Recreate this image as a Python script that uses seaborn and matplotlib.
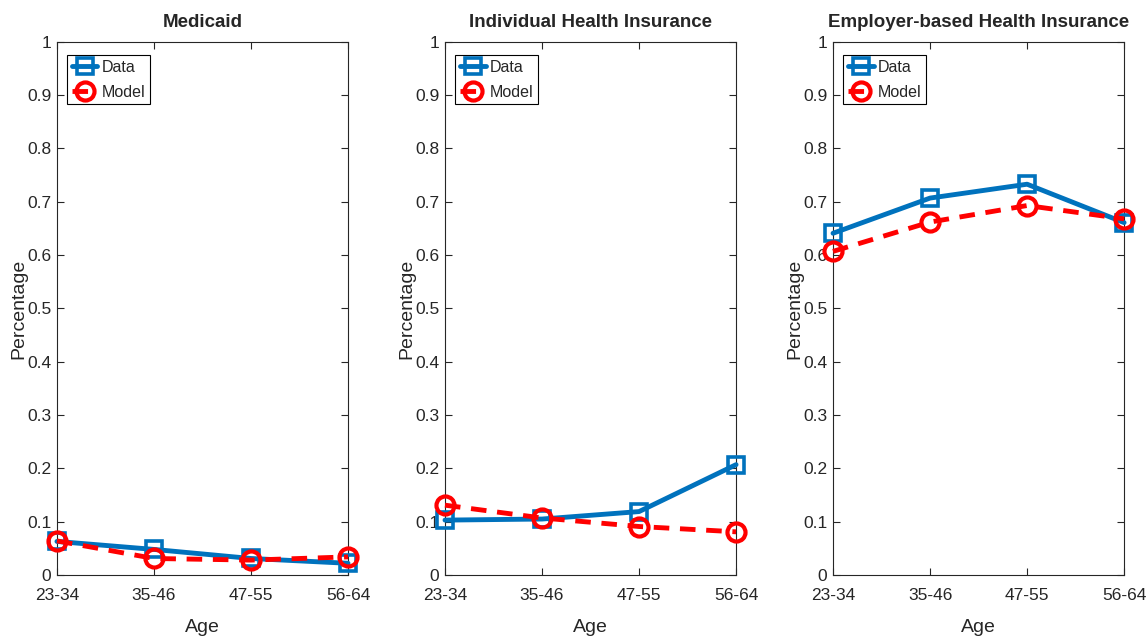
import matplotlib
matplotlib.use("Agg")
import matplotlib.pyplot as plt
import seaborn as sns
import pandas as pd

age_groups = ["23-34", "35-46", "47-55", "56-64"]
titles = ["Medicaid", "Individual Health Insurance", "Employer-based Health Insurance"]

medicaid_data = [0.063, 0.048, 0.031, 0.022]
medicaid_model = [0.064, 0.031, 0.028, 0.034]
individual_data = [0.103, 0.105, 0.119, 0.207]
individual_model = [0.131, 0.107, 0.091, 0.081]
employer_data = [0.641, 0.707, 0.733, 0.661]
employer_model = [0.607, 0.662, 0.693, 0.668]

y_ticks = [0, 0.1, 0.2, 0.3, 0.4, 0.5, 0.6, 0.7, 0.8, 0.9, 1]
y_tick_labels = ["0", "0.1", "0.2", "0.3", "0.4", "0.5", "0.6", "0.7", "0.8", "0.9", "1"]

series = [(medicaid_data, medicaid_model),
          (individual_data, individual_model),
          (employer_data, employer_model)]

sns.set_style("ticks")
plt.rcParams["font.family"] = ["Liberation Sans Narrow", "Liberation Sans", "DejaVu Sans"]

fig = plt.figure(figsize=(11.46, 6.37), dpi=100)
lefts = [0.0497, 0.3883, 0.7269]
blue = "#0072BD"

for left, title, (d, m) in zip(lefts, titles, series):
    ax = fig.add_axes([left, 0.0973, 0.254, 0.837])
    df = pd.DataFrame({"pos": range(len(age_groups)), "data": d, "model": m})
    sns.lineplot(data=df, x="pos", y="data", ax=ax, color=blue, lw=3.5,
                 marker="s", markersize=11, markerfacecolor="none",
                 markeredgecolor=blue, markeredgewidth=2.6, label="Data",
                 clip_on=False, zorder=3)
    sns.lineplot(data=df, x="pos", y="model", ax=ax, color="red", lw=3.5,
                 linestyle=(0, (3.2, 2.2)), marker="o", markersize=13,
                 markerfacecolor="none", markeredgecolor="red",
                 markeredgewidth=3, label="Model", clip_on=False, zorder=4)
    ax.set_xlim(0, len(age_groups) - 1)
    ax.set_ylim(0, 1)
    ax.set_xticks(range(len(age_groups)))
    ax.set_xticklabels(age_groups)
    ax.set_yticks(y_ticks)
    ax.set_yticklabels(y_tick_labels)
    ax.tick_params(direction="in", top=True, right=True, length=5, width=0.8,
                   labelsize=12.5, colors="#262626", pad=4)
    ax.tick_params(axis="x", pad=9)
    for s in ax.spines.values():
        s.set_visible(True)
        s.set_color("#262626")
        s.set_linewidth(0.8)
    ax.set_xlabel("Age", fontsize=14, color="#262626", labelpad=12)
    ax.set_ylabel("Percentage", fontsize=14, color="#262626", labelpad=0)
    ax.set_title(title, fontsize=13.5, fontweight="bold", pad=11)
    leg = ax.legend(loc="upper left", bbox_to_anchor=(0.035, 0.975),
                    fontsize=11.5, frameon=True, fancybox=False,
                    edgecolor="black", framealpha=1, borderpad=0.3,
                    handlelength=1.6, handletextpad=0.25, labelspacing=0.6,
                    borderaxespad=0)
    leg.get_frame().set_linewidth(0.8)

fig.savefig("out.png", dpi=100)
